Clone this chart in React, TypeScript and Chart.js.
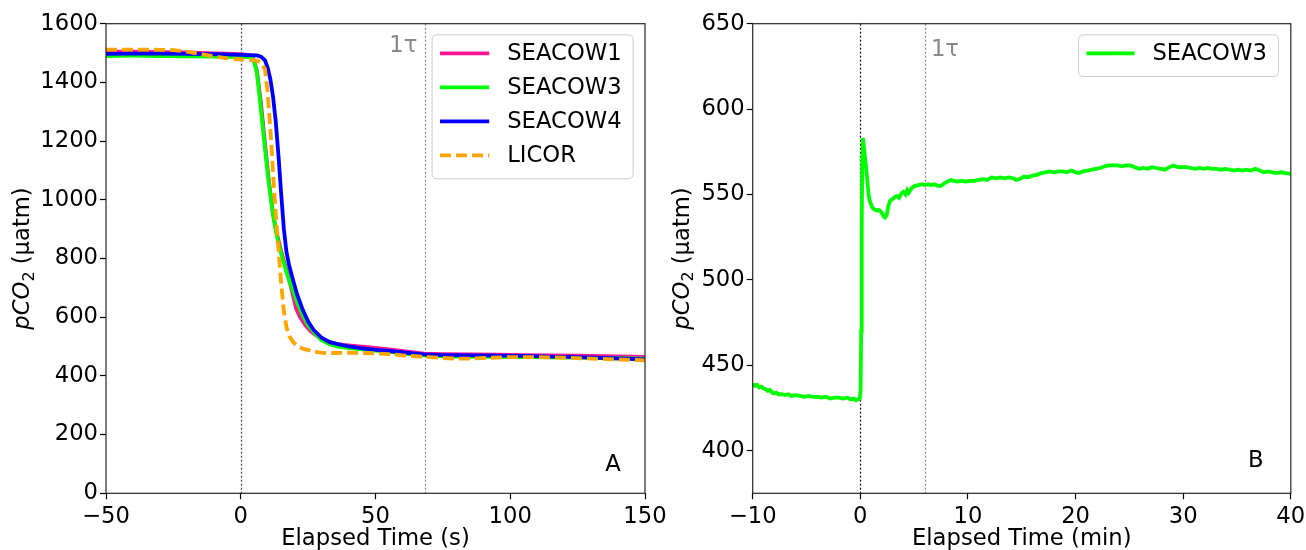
import React, { useEffect, useRef } from 'react';
import { Chart, registerables } from 'chart.js';
Chart.register(...registerables);

const FONT = '"DejaVu Sans", sans-serif';
const FS = 22.7;
const LW = 3.8;

// ---------- Panel A data (Elapsed Time s, pCO2 µatm) ----------
const panelA_SEACOW1: [number, number][] = [
  [-50, 1505], [-40, 1505], [-30, 1503], [-20, 1502], [-10, 1499], [-5, 1498], [0, 1496], [3, 1493], [4.5, 1485],
  [6, 1440], [7.5, 1330], [9, 1190], [10.5, 1060], [12, 950], [13.5, 880], [15, 825], [17, 760], [19, 690],
  [20.5, 630], [22, 600], [24, 572], [26, 552], [28, 538], [31, 522], [34, 512], [38, 506], [42, 502], [48, 497],
  [55, 490], [62, 483], [68, 476], [75, 474], [85, 473], [95, 472], [105, 471], [115, 470], [125, 469], [135, 467], [150, 465],
];
const panelA_SEACOW3: [number, number][] = [
  [-50, 1490], [-40, 1491], [-30, 1490], [-20, 1489], [-10, 1488], [-5, 1487], [0, 1486], [2, 1486], [4, 1485],
  [5, 1470], [6, 1432], [7, 1350], [8, 1262], [9, 1175], [10, 1090], [11, 1015], [12, 948], [13, 895], [14, 852],
  [15.5, 800], [17, 752], [19, 700], [21, 648], [23, 605], [25, 572], [27.5, 545], [30, 522], [33, 508], [36, 500],
  [40, 495], [45, 490], [50, 486], [56, 481], [62, 475], [68, 470], [75, 467], [85, 466], [95, 465], [105, 464],
  [115, 463], [125, 462], [135, 461], [150, 459],
];
const panelA_SEACOW4: [number, number][] = [
  [-50, 1497], [-40, 1498], [-30, 1498], [-20, 1497], [-10, 1496], [0, 1494], [3, 1493], [6, 1492], [7.5, 1488],
  [9, 1475], [10, 1450], [11, 1410], [12, 1350], [13, 1265], [14, 1150], [15, 1020], [16, 900], [17, 820], [18, 775],
  [19, 740], [21, 675], [23, 625], [25, 585], [27, 557], [30, 530], [33, 515], [36, 508], [40, 501], [45, 494],
  [50, 489], [56, 484], [62, 478], [68, 473], [75, 471], [85, 470], [95, 469], [105, 468], [115, 466], [125, 464],
  [135, 461], [150, 456],
];
const panelA_LICOR: [number, number][] = [
  [-50, 1512], [-40, 1512], [-30, 1511], [-25, 1510], [-20, 1505], [-15, 1497], [-10, 1489], [-5, 1482], [0, 1478],
  [4, 1476], [6, 1474], [7.5, 1468], [9, 1445], [10, 1365], [11, 1240], [12, 1090], [13, 950], [14, 830], [15, 715],
  [16, 620], [17, 565], [18, 535], [19.5, 515], [21, 502], [23, 493], [26, 486], [29, 480], [32, 477], [35, 478],
  [40, 479], [45, 478], [50, 477], [55, 474], [60, 470], [65, 467], [70, 464], [75, 461], [80, 459], [85, 459],
  [90, 461], [100, 464], [110, 464], [120, 462], [130, 459], [140, 456], [150, 453],
];
const panelA_tau = 68.5;

// ---------- Panel B data (Elapsed Time min, pCO2 µatm) ----------
const panelB_SEACOW3: [number, number][] = [
  [-10, 439], [-9.8, 438], [-9.6, 438.5], [-9.4, 437], [-9.2, 437.5], [-9.0, 436.5], [-8.8, 436], [-8.6, 435],
  [-8.4, 435.5], [-8.2, 434], [-8.0, 433.5], [-7.8, 434], [-7.6, 433], [-7.3, 433], [-7.0, 432.5], [-6.7, 433],
  [-6.4, 432], [-6.0, 432.5], [-5.6, 432], [-5.2, 431.5], [-4.8, 432], [-4.4, 431.5], [-4.0, 431.5], [-3.6, 431],
  [-3.2, 431.5], [-2.8, 430.5], [-2.4, 431], [-2.0, 431], [-1.6, 430.5], [-1.2, 431], [-0.9, 430], [-0.6, 430.5],
  [-0.4, 429.5], [-0.2, 430], [-0.05, 430.5], [0.03, 436], [0.08, 470], [0.13, 530], [0.18, 572], [0.24, 583],
  [0.3, 580], [0.38, 575], [0.46, 570], [0.55, 565], [0.65, 558], [0.75, 551], [0.85, 547], [0.95, 545],
  [1.1, 542.5], [1.25, 541.5], [1.4, 541], [1.55, 540.5], [1.7, 541], [1.85, 540.5], [2.0, 539], [2.1, 538],
  [2.2, 537], [2.3, 536.5], [2.45, 538], [2.6, 543], [2.75, 546], [2.9, 547], [3.05, 547.5], [3.2, 548.5],
  [3.4, 549], [3.6, 548], [3.8, 550.5], [4.0, 551.5], [4.2, 550], [4.35, 552.5], [4.5, 551], [4.7, 553],
  [4.9, 554.5], [5.1, 555], [5.4, 555.5], [5.7, 556], [6.0, 555.5], [6.3, 556], [6.6, 555.5], [6.9, 556],
  [7.2, 555], [7.5, 555], [7.8, 556.5], [8.1, 557.5], [8.4, 558.5], [8.7, 558], [9.0, 557.5], [9.4, 558],
  [9.8, 557.5], [10.2, 558], [10.6, 558], [11.0, 558.5], [11.4, 559], [11.8, 558.5], [12.2, 560], [12.6, 559.5],
  [13.0, 560], [13.4, 559.5], [13.8, 560], [14.2, 559.5], [14.5, 558.5], [14.8, 559], [15.2, 560.5], [15.6, 560],
  [16.0, 561], [16.4, 561.5], [16.8, 562.5], [17.2, 563], [17.6, 563.5], [18.0, 563], [18.4, 563.5], [18.8, 563.5],
  [19.2, 563], [19.6, 564], [20.0, 563], [20.3, 562.5], [20.7, 563.5], [21.1, 564], [21.5, 564.5], [21.9, 565],
  [22.3, 565.5], [22.7, 566.5], [23.1, 567], [23.5, 567], [23.9, 567], [24.3, 566.5], [24.7, 567], [25.1, 567],
  [25.5, 566], [25.9, 565], [26.3, 565.5], [26.7, 565], [27.1, 566], [27.5, 565.5], [27.9, 565], [28.3, 564.5],
  [28.7, 566], [29.1, 567], [29.5, 566], [29.9, 566], [30.3, 566], [30.7, 565.5], [31.1, 565], [31.5, 565.5],
  [31.9, 565], [32.3, 565.5], [32.7, 565], [33.1, 565], [33.5, 564.5], [33.9, 565], [34.3, 564.5], [34.7, 564],
  [35.1, 564.5], [35.5, 564], [35.9, 564.5], [36.3, 564], [36.7, 565], [37.1, 564], [37.5, 563], [37.9, 563.5],
  [38.3, 563], [38.7, 562.5], [39.1, 563], [39.5, 562.5], [40, 562],
];
const panelB_tau = 6;

const fmtTick = (v: number) => (v < 0 ? '\u2212' + Math.abs(v) : String(v));
const toXY = (arr: [number, number][]) => arr.map(([x, y]) => ({ x, y }));

function roundRect(ctx: CanvasRenderingContext2D, x: number, y: number, w: number, h: number, r: number) {
  ctx.beginPath();
  ctx.moveTo(x + r, y);
  ctx.lineTo(x + w - r, y);
  ctx.quadraticCurveTo(x + w, y, x + w, y + r);
  ctx.lineTo(x + w, y + h - r);
  ctx.quadraticCurveTo(x + w, y + h, x + w - r, y + h);
  ctx.lineTo(x + r, y + h);
  ctx.quadraticCurveTo(x, y + h, x, y + h - r);
  ctx.lineTo(x, y + r);
  ctx.quadraticCurveTo(x, y, x + r, y);
  ctx.closePath();
}

type Deco = {
  vlines: { value: number; color: string }[];
  tau: { value: number; dx: number; dy: number; align: CanvasTextAlign };
  panel: { text: string; dxRight: number; dyBottom: number };
  legend: { rightOff: number; topOff: number; width: number; height: number; firstRow: number; rowGap: number; lineX0: number; lineX1: number; textX: number };
  ytitle: { dxLeft: number };
};

function makeDeco(cfg: Deco) {
  return {
    id: 'deco',
    beforeDatasetsDraw(chart: any) {
      const { ctx, chartArea: a, scales } = chart;
      ctx.save();
      ctx.lineWidth = 1.2;
      ctx.setLineDash([2, 2]);
      for (const v of cfg.vlines) {
        const px = Math.round(scales.x.getPixelForValue(v.value)) + 0.5;
        ctx.strokeStyle = v.color;
        ctx.beginPath();
        ctx.moveTo(px, a.top);
        ctx.lineTo(px, a.bottom);
        ctx.stroke();
      }
      ctx.restore();
    },
    afterDatasetsDraw(chart: any) {
      const { ctx, chartArea: a, scales } = chart;
      ctx.save();
      // frame
      ctx.strokeStyle = '#262626';
      ctx.lineWidth = 1.2;
      ctx.strokeRect(a.left, a.top, a.right - a.left, a.bottom - a.top);
      // 1τ label
      const tx = scales.x.getPixelForValue(cfg.tau.value) + cfg.tau.dx;
      ctx.fillStyle = '#888888';
      ctx.font = `${FS}px ${FONT}`;
      ctx.textAlign = cfg.tau.align;
      ctx.textBaseline = 'middle';
      ctx.fillText('1\u03c4', tx, a.top + cfg.tau.dy);
      // panel letter
      ctx.fillStyle = '#000';
      ctx.textAlign = 'center';
      ctx.fillText(cfg.panel.text, a.right - cfg.panel.dxRight, a.bottom - cfg.panel.dyBottom);
      // legend
      const L = cfg.legend;
      const lx = a.right - L.rightOff - L.width;
      const ly = a.top + L.topOff;
      ctx.fillStyle = 'rgba(255,255,255,0.8)';
      ctx.strokeStyle = '#cccccc';
      ctx.lineWidth = 1;
      roundRect(ctx, lx + 0.5, ly + 0.5, L.width, L.height, 5);
      ctx.fill();
      ctx.stroke();
      chart.data.datasets.forEach((ds: any, i: number) => {
        const y = ly + L.firstRow + i * L.rowGap;
        ctx.strokeStyle = ds.borderColor;
        ctx.lineWidth = ds.borderWidth;
        ctx.setLineDash(ds.borderDash || []);
        ctx.beginPath();
        ctx.moveTo(lx + L.lineX0, y);
        ctx.lineTo(lx + L.lineX1, y);
        ctx.stroke();
        ctx.setLineDash([]);
        ctx.fillStyle = '#000';
        ctx.textAlign = 'left';
        ctx.textBaseline = 'middle';
        ctx.font = `${FS}px ${FONT}`;
        ctx.fillText(ds.label, lx + L.textX, y + 1);
      });
      // y title: pCO2 (µatm)
      const cx = a.left - cfg.ytitle.dxLeft;
      const cy = (a.top + a.bottom) / 2;
      ctx.translate(cx, cy);
      ctx.rotate(-Math.PI / 2);
      const fI = `italic ${FS}px ${FONT}`;
      const fS = `${FS * 0.7}px ${FONT}`;
      const fN = `${FS}px ${FONT}`;
      ctx.font = fI; const w1 = ctx.measureText('pCO').width;
      ctx.font = fS; const w2 = ctx.measureText('2').width;
      ctx.font = fN; const w3 = ctx.measureText(' (\u00b5atm)').width;
      let x = -(w1 + w2 + w3) / 2;
      const base = FS * 0.31;
      ctx.textAlign = 'left';
      ctx.textBaseline = 'alphabetic';
      ctx.fillStyle = '#000';
      ctx.font = fI; ctx.fillText('pCO', x, base); x += w1;
      ctx.font = fS; ctx.fillText('2', x, base + FS * 0.2); x += w2;
      ctx.font = fN; ctx.fillText(' (\u00b5atm)', x, base);
      ctx.restore();
    },
  };
}

function xAxis(title: string, min: number, max: number, step: number, xHeight: number) {
  return {
    type: 'linear',
    min, max,
    border: { display: false },
    grid: { drawOnChartArea: false, drawTicks: true, tickLength: 6, tickColor: '#000', tickWidth: 1.2 },
    ticks: { stepSize: step, autoSkip: false, maxRotation: 0, padding: 4, color: '#000', font: { size: FS, family: FONT }, callback: (v: number) => fmtTick(v) },
    title: { display: true, text: title, color: '#000', font: { size: FS, family: FONT }, padding: { top: 0, bottom: -3 } },
    afterFit: (s: any) => { s.height = xHeight; s.paddingLeft = 0; s.paddingRight = 0; },
  };
}

function yAxis(min: number, max: number, step: number, width: number) {
  return {
    type: 'linear',
    min, max,
    border: { display: false },
    grid: { drawOnChartArea: false, drawTicks: true, tickLength: 6, tickColor: '#000', tickWidth: 1.2 },
    ticks: { stepSize: step, autoSkip: false, padding: 2, color: '#000', font: { size: FS, family: FONT }, callback: (v: number) => fmtTick(v) },
    title: { display: false },
    afterBuildTicks: (s: any) => { s.ticks = s.ticks.filter((t: any) => t.value % step === 0); },
    afterFit: (s: any) => { s.width = width; s.paddingTop = 0; s.paddingBottom = 0; },
  };
}

const TOP = 23.7;
const XH = 550 - 493.3;

function PanelA() {
  const ref = useRef<HTMLCanvasElement>(null);
  useEffect(() => {
    const chart = new Chart(ref.current!, {
      type: 'line',
      data: {
        datasets: [
          { label: 'SEACOW1', data: toXY(panelA_SEACOW1), borderColor: '#ff1493', borderWidth: LW, pointRadius: 0, order: 4 },
          { label: 'SEACOW3', data: toXY(panelA_SEACOW3), borderColor: '#00ff00', borderWidth: LW, pointRadius: 0, order: 3 },
          { label: 'SEACOW4', data: toXY(panelA_SEACOW4), borderColor: '#0000ff', borderWidth: LW, pointRadius: 0, order: 2 },
          { label: 'LICOR', data: toXY(panelA_LICOR), borderColor: '#ffa500', borderWidth: LW, borderDash: [11, 5], pointRadius: 0, order: 1 },
        ],
      },
      options: {
        responsive: false,
        animation: false,
        events: [],
        layout: { padding: { left: 0, right: 680 - 645, top: TOP, bottom: 0 } },
        plugins: { legend: { display: false }, tooltip: { enabled: false } },
        scales: {
          x: xAxis('Elapsed Time (s)', -50, 150, 50, XH) as any,
          y: yAxis(0, 1600, 200, 106) as any,
        },
      },
      plugins: [makeDeco({
        vlines: [{ value: 0, color: '#444444' }, { value: panelA_tau, color: '#888888' }],
        tau: { value: panelA_tau, dx: -8, dy: 22, align: 'right' },
        panel: { text: 'A', dxRight: 32, dyBottom: 28 },
        legend: { rightOff: 12.4, topOff: 10.6, width: 201, height: 144, firstRow: 19, rowGap: 34, lineX0: 8.4, lineX1: 57.6, textX: 75.6 },
        ytitle: { dxLeft: 84 },
      }) as any],
    } as any);
    return () => chart.destroy();
  }, []);
  return <canvas ref={ref} width={680} height={550} style={{ position: 'absolute', left: 0, top: 0 }} />;
}

function PanelB() {
  const ref = useRef<HTMLCanvasElement>(null);
  useEffect(() => {
    const chart = new Chart(ref.current!, {
      type: 'line',
      data: {
        datasets: [
          { label: 'SEACOW3', data: toXY(panelB_SEACOW3), borderColor: '#00ff00', borderWidth: LW, pointRadius: 0 },
        ],
      },
      options: {
        responsive: false,
        animation: false,
        events: [],
        layout: { padding: { left: 0, right: 1306 - 1290.8, top: TOP, bottom: 0 } },
        plugins: { legend: { display: false }, tooltip: { enabled: false } },
        scales: {
          x: xAxis('Elapsed Time (min)', -10, 40, 10, XH) as any,
          y: yAxis(375, 650, 50, 752.7 - 655) as any,
        },
      },
      plugins: [makeDeco({
        vlines: [{ value: 0, color: '#111111' }, { value: panelB_tau, color: '#888888' }],
        tau: { value: panelB_tau, dx: 6, dy: 26, align: 'left' },
        panel: { text: 'B', dxRight: 35, dyBottom: 32 },
        legend: { rightOff: 12.8, topOff: 10.6, width: 200, height: 41.7, firstRow: 19, rowGap: 34, lineX0: 8.5, lineX1: 56.6, textX: 74.4 },
        ytitle: { dxLeft: 752.7 - 681.7 },
      }) as any],
    } as any);
    return () => chart.destroy();
  }, []);
  return <canvas ref={ref} width={651} height={550} style={{ position: 'absolute', left: 655, top: 0 }} />;
}

export default function App() {
  return (
    <div style={{ position: 'absolute', left: 0, top: 0, width: 1306, height: 550, background: '#fff', overflow: 'hidden' }}>
      <PanelA />
      <PanelB />
    </div>
  );
}
